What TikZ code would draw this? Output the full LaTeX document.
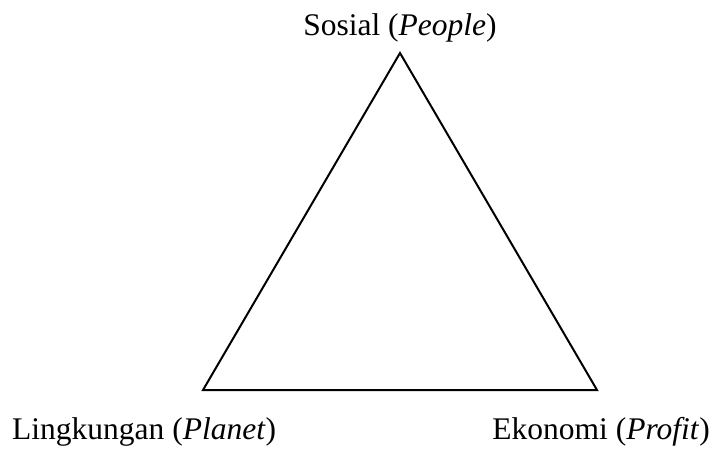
\documentclass[tikz,border=0pt]{standalone}
\usepackage{fontspec}
\setmainfont{Liberation Serif}
\begin{document}
\begin{tikzpicture}[x=1pt,y=-1pt,
  lbl/.style={inner sep=0pt,font=\fontsize{31.5}{38}\selectfont},
  edge/.style={line width=2pt,line join=miter}]
\useasboundingbox (0,0) rectangle (717,453);
\coordinate (top) at (400,53);
\coordinate (bl) at (203,390);
\coordinate (br) at (597,390);
\draw[edge] (top) -- (bl) -- (br) -- cycle;
\node[lbl,anchor=base] (soc) at (400,35) {Sosial (\textit{People})};
\node[lbl,anchor=base west] (env) at (12,439) {Lingkungan (\textit{Planet})};
\node[lbl,anchor=base east] (eco) at (710,439) {Ekonomi (\textit{Profit})};
\end{tikzpicture}
\end{document}
